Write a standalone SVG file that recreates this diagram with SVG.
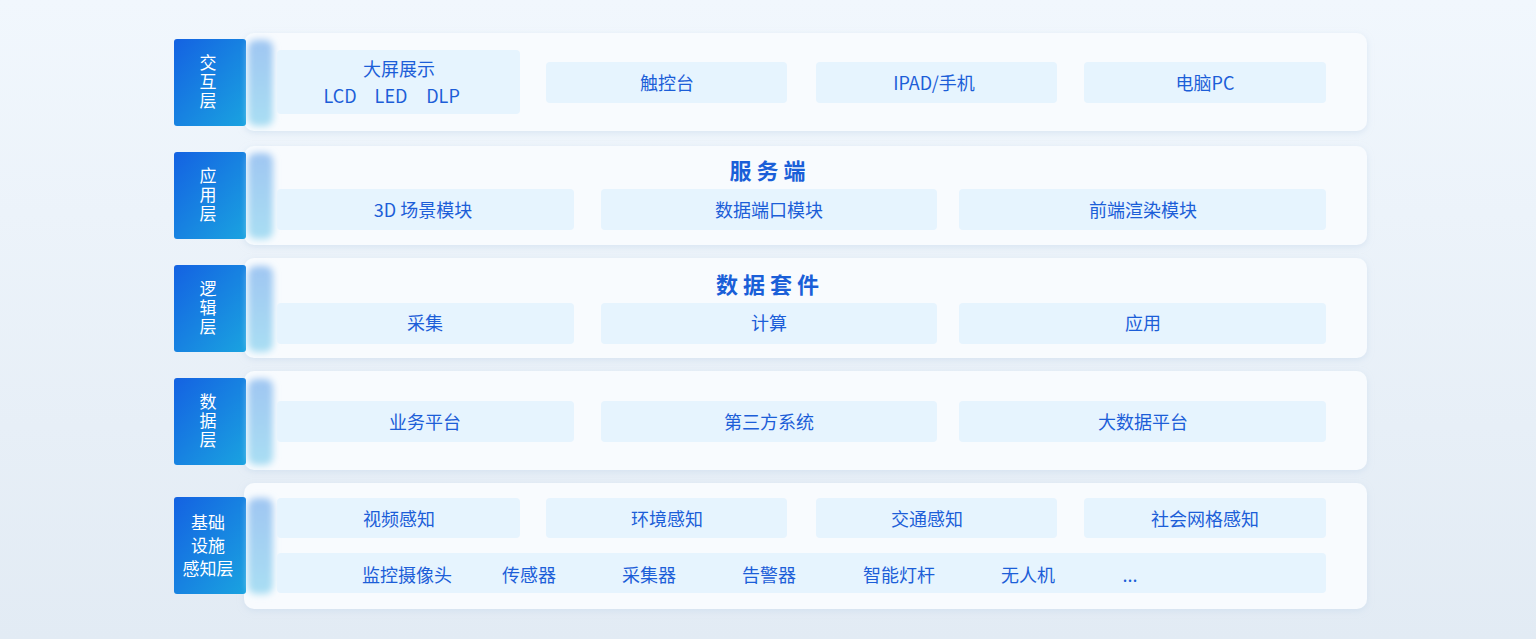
<svg xmlns="http://www.w3.org/2000/svg" width="1536" height="639" viewBox="0 0 1536 639">
<defs>
<linearGradient id="bg" x1="0" y1="0" x2="0" y2="1">
<stop offset="0" stop-color="#f1f7fd"/>
<stop offset="1" stop-color="#e2ebf4"/>
</linearGradient>
<linearGradient id="lab" x1="0" y1="0" x2="1" y2="1">
<stop offset="0" stop-color="#1462e2"/>
<stop offset="1" stop-color="#1aa3e0"/>
</linearGradient>
<linearGradient id="glow" x1="0" y1="0" x2="0" y2="1">
<stop offset="0" stop-color="#9fc6f2"/>
<stop offset="1" stop-color="#a9def3"/>
</linearGradient>
<filter id="blur" x="-50%" y="-20%" width="200%" height="140%">
<feGaussianBlur stdDeviation="3.5"/>
</filter>
<filter id="sh" x="-5%" y="-20%" width="110%" height="140%">
<feDropShadow dx="0" dy="2" stdDeviation="3" flood-color="#c5d6ea" flood-opacity="0.5"/>
</filter>
</defs>
<style>
.panel{fill:#f8fbfe;filter:url(#sh)}
.lab{fill:url(#lab)}
.glow{fill:url(#glow);filter:url(#blur)}
.box{fill:#e6f4fe}
.t{font-family:"Noto Sans CJK SC","Noto Sans",sans-serif;font-size:18px;fill:#1c5ed8;text-anchor:middle;dominant-baseline:central}
.lt{font-family:"Noto Sans CJK SC","Noto Sans",sans-serif;font-size:17px;fill:#ffffff;text-anchor:middle}
.vt{font-family:"Noto Sans CJK SC","Noto Sans",sans-serif;font-size:17px;fill:#ffffff;text-anchor:middle;writing-mode:vertical-rl;letter-spacing:2px}
.h{font-family:"Noto Sans CJK SC","Noto Sans",sans-serif;font-size:22px;font-weight:bold;fill:#1a5fd8;text-anchor:middle;dominant-baseline:central;letter-spacing:5px}
</style>
<rect width="1536" height="639" fill="url(#bg)"/>

<g id="layer-interaction">
<rect class="panel" x="244" y="33" width="1123" height="98" rx="10"/>
<rect class="lab" x="174" y="39" width="72" height="87" rx="3"/>
<rect class="glow" x="248" y="40" width="25" height="86" rx="8"/>
<text class="vt" x="208" y="83">交互层</text>
<rect class="box" x="277" y="50" width="243" height="64" rx="4"/>
<text class="t" x="399" y="68">大屏展示</text>
<text class="t" x="340" y="95">LCD</text>
<text class="t" x="391" y="95">LED</text>
<text class="t" x="443" y="95">DLP</text>
<rect class="box" x="546" y="62" width="241" height="41" rx="4"/>
<text class="t" x="667" y="82">触控台</text>
<rect class="box" x="816" y="62" width="241" height="41" rx="4"/>
<text class="t" x="934" y="82">IPAD/手机</text>
<rect class="box" x="1084" y="62" width="242" height="41" rx="4"/>
<text class="t" x="1205" y="82">电脑PC</text>
</g>

<g id="layer-application">
<rect class="panel" x="244" y="146" width="1123" height="99" rx="10"/>
<rect class="lab" x="174" y="152" width="72" height="87" rx="3"/>
<rect class="glow" x="248" y="153" width="25" height="86" rx="8"/>
<text class="vt" x="208" y="196">应用层</text>
<text class="h" x="770" y="169">服务端</text>
<rect class="box" x="277" y="189" width="297" height="41" rx="4"/>
<text class="t" x="423" y="209">3D 场景模块</text>
<rect class="box" x="601" y="189" width="336" height="41" rx="4"/>
<text class="t" x="769" y="209">数据端口模块</text>
<rect class="box" x="959" y="189" width="367" height="41" rx="4"/>
<text class="t" x="1143" y="209">前端渲染模块</text>
</g>

<g id="layer-logic">
<rect class="panel" x="244" y="258" width="1123" height="100" rx="10"/>
<rect class="lab" x="174" y="265" width="72" height="87" rx="3"/>
<rect class="glow" x="248" y="266" width="25" height="86" rx="8"/>
<text class="vt" x="208" y="309">逻辑层</text>
<text class="h" x="770" y="283">数据套件</text>
<rect class="box" x="277" y="303" width="297" height="41" rx="4"/>
<text class="t" x="425" y="322">采集</text>
<rect class="box" x="601" y="303" width="336" height="41" rx="4"/>
<text class="t" x="769" y="322">计算</text>
<rect class="box" x="959" y="303" width="367" height="41" rx="4"/>
<text class="t" x="1143" y="322">应用</text>
</g>

<g id="layer-data">
<rect class="panel" x="244" y="371" width="1123" height="99" rx="10"/>
<rect class="lab" x="174" y="378" width="72" height="87" rx="3"/>
<rect class="glow" x="248" y="379" width="25" height="86" rx="8"/>
<text class="vt" x="208" y="422">数据层</text>
<rect class="box" x="277" y="401" width="297" height="41" rx="4"/>
<text class="t" x="425" y="421">业务平台</text>
<rect class="box" x="601" y="401" width="336" height="41" rx="4"/>
<text class="t" x="769" y="421">第三方系统</text>
<rect class="box" x="959" y="401" width="367" height="41" rx="4"/>
<text class="t" x="1143" y="421">大数据平台</text>
</g>

<g id="layer-infrastructure">
<rect class="panel" x="244" y="483" width="1123" height="126" rx="10"/>
<rect class="lab" x="174" y="497" width="72" height="97" rx="3"/>
<rect class="glow" x="248" y="498" width="25" height="96" rx="8"/>
<text class="lt" x="208" y="529">基础<tspan x="208" dy="23">设施</tspan><tspan x="208" dy="23">感知层</tspan></text>
<rect class="box" x="277" y="498" width="243" height="40" rx="4"/>
<text class="t" x="399" y="518">视频感知</text>
<rect class="box" x="546" y="498" width="241" height="40" rx="4"/>
<text class="t" x="667" y="518">环境感知</text>
<rect class="box" x="816" y="498" width="241" height="40" rx="4"/>
<text class="t" x="927" y="518">交通感知</text>
<rect class="box" x="1084" y="498" width="242" height="40" rx="4"/>
<text class="t" x="1205" y="518">社会网格感知</text>
<rect class="box" x="277" y="553" width="1049" height="40" rx="4"/>
<text class="t" x="407" y="574">监控摄像头</text>
<text class="t" x="529" y="574">传感器</text>
<text class="t" x="649" y="574">采集器</text>
<text class="t" x="769" y="574">告警器</text>
<text class="t" x="899" y="574">智能灯杆</text>
<text class="t" x="1028" y="574">无人机</text>
<text class="t" x="1130" y="574">...</text>
</g>
<g id="connectors"/>
</svg>
